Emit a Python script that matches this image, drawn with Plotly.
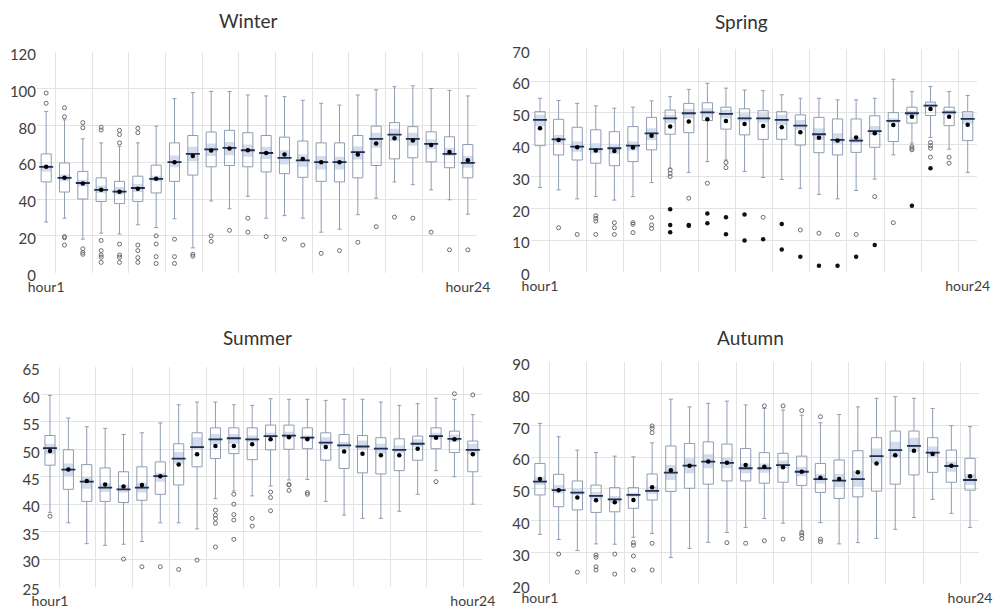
import plotly.graph_objects as go

hours = list(range(1, 25))
hour_ticks = [1, 24]
hour_labels = ["hour1", "hour24"]
season_names = ["Winter", "Spring", "Summer", "Autumn"]

# ---------------- Winter ----------------
winter_upper = [87.5, 83, 72.7, 70.5, 68.7, 70.5, 79.6, 94.5, 97.8, 98.4, 98.4, 96.5, 96, 95.6, 93.6, 92, 91, 96.5, 99.3, 101, 101.5, 100, 99, 96]
winter_q3 = [64.5, 59.6, 55, 51.5, 49.6, 52.4, 58.4, 70.5, 74.5, 76.4, 77.3, 76, 74.5, 73.6, 71.5, 70.5, 70.5, 74.5, 79.6, 81.5, 79.3, 76.5, 73.8, 69.6]
winter_median = [57.5, 51.5, 48.7, 45, 44, 46, 51, 60, 64.5, 67, 67.8, 66.5, 65, 62.4, 61, 60, 60, 65.5, 72.7, 75, 72.7, 70, 64.5, 59.6]
winter_q1 = [49.3, 43.8, 40, 38.7, 37.5, 38.7, 43.3, 49.6, 53, 57.5, 58.2, 57.5, 54.7, 53.8, 51.8, 49.6, 49.3, 51.5, 58.2, 61.8, 62.4, 60.2, 57, 51.5]
winter_lower = [27.5, 29.6, 18.2, 21.5, 21, 26, 24.5, 29.3, 13.5, 39, 34.7, 41.5, 29.6, 31, 29.6, 22, 23.6, 31.5, 40.5, 49.3, 47.8, 45, 39.6, 31.8]
winter_mean = [57.5, 51.5, 48.4, 45, 44, 45.6, 51, 60, 63.3, 66.4, 67.5, 66.5, 65, 64.2, 61.8, 60, 60, 64.2, 70.2, 73, 71.8, 69.3, 65.6, 61]
winter_ci_lo = [55, 49.6, 46.9, 43.3, 42.4, 43.8, 49.6, 57.3, 60.5, 63.3, 63.8, 63, 61.8, 58.7, 57.5, 56, 56, 61.5, 67.8, 71.5, 69, 67, 63.3, 57]
winter_ci_hi = [58.4, 53.3, 50.5, 47.3, 46.5, 48.2, 52.7, 63.6, 68.4, 70.2, 71, 69.6, 68.4, 66.5, 64.2, 63.3, 63, 68.7, 76, 78.2, 76, 72.4, 67.8, 63.3]
winter_out_hour = [1, 1, 2, 2, 2, 2, 2, 3, 3, 3, 3, 3, 4, 4, 4, 4, 4, 4, 4, 5, 5, 5, 5, 5, 5, 5,
                   6, 6, 6, 6, 6, 6, 7, 7, 7, 7, 8, 8, 8, 9, 9, 10, 10, 11, 12, 12, 13, 14, 15, 16, 17, 18, 19, 20, 21, 22, 23, 24]
winter_out_val = [97.5, 92, 89.6, 84.7, 19.6, 19, 15, 81.5, 78.7, 13, 11, 10, 79, 77.5, 17.5, 12, 9.6, 8.4, 5.6, 77.3, 75, 70.5, 15.5, 9.6, 8.4, 5.6,
                  78.4, 76, 15, 12, 8.2, 5.6, 20, 15.6, 8.7, 5, 18.2, 8.7, 5, 10, 9, 20, 17, 23, 29.6, 22, 19.6, 18.2, 15, 10.5, 12, 16.5, 25, 30.2, 29.6, 22, 12.4, 12.4]
winter_far_hour = []
winter_far_val = []

# ---------------- Spring ----------------
spring_upper = [54.6, 53.9, 53, 52.2, 51.5, 51.8, 53.8, 55.1, 57.4, 59.3, 57.8, 57.2, 57, 55.7, 54.6, 54.6, 54.1, 54.1, 54.6, 60.6, 56.7, 58.3, 56.7, 55.5]
spring_q3 = [50.4, 48, 45.5, 44.7, 44.1, 45.7, 48.6, 50.9, 53, 53.2, 51.8, 51.3, 50.7, 50.4, 49.4, 48.6, 48.1, 48.1, 49.1, 50.1, 51.8, 53.4, 51.8, 50.4]
spring_median = [47.8, 41.7, 39.4, 38.6, 38.9, 39.7, 43.6, 48.3, 49.9, 50.2, 49.7, 48.3, 48.3, 47.8, 46, 43.3, 41.5, 41.3, 44.3, 47.5, 49.9, 52.3, 50.2, 48.1]
spring_q1 = [39.7, 36.8, 35.2, 34.2, 33.4, 34.7, 38.4, 43.3, 43.8, 47.6, 44.9, 43.1, 41.7, 41.7, 39.9, 37.5, 36.8, 37.6, 39.2, 41, 46.8, 49.2, 46, 41.3]
spring_lower = [26.6, 25.8, 23, 23.7, 22.6, 23.7, 28.1, 32.6, 31.3, 34.7, 35.2, 31.6, 29.7, 29.1, 26.3, 24.4, 23, 25.6, 29.2, 36.8, 40.5, 42.3, 38.6, 31.3]
spring_mean = [45.2, 41.5, 39.2, 38.2, 38, 39.1, 42.8, 45.7, 47.3, 48, 47.5, 46.5, 45.9, 45.5, 43.9, 42.2, 41.3, 42.3, 43.6, 46.2, 48.8, 51.2, 48.8, 46.3]
spring_ci_lo = [45.7, 40.3, 37.8, 37.3, 37.1, 38.2, 41.5, 46.8, 48.3, 48.6, 48.3, 47.3, 47, 46.2, 44.7, 41.5, 40.3, 40.5, 43.1, 46.8, 49, 51.8, 49.4, 46.5]
spring_ci_hi = [49.4, 43.1, 41, 40.5, 40.3, 41, 45.2, 49.4, 51.2, 51.5, 51, 49.9, 49.9, 49.4, 47.8, 45.2, 43.6, 42.3, 45.9, 48.3, 50.7, 53, 50.9, 49.9]
spring_out_hour = [2, 3, 4, 4, 4, 4, 5, 5, 5, 6, 6, 6, 7, 7, 7, 8, 8, 8, 9, 10, 11, 11, 13, 15, 16, 17, 18, 19, 20,
                   21, 21, 21, 22, 22, 22, 22, 23, 23]
spring_out_val = [13.9, 11.8, 17.7, 16.9, 16, 11.8, 15.5, 13.9, 11.8, 15.5, 15, 12.4, 17.1, 14.8, 13.7, 32.1, 31, 30, 23.2, 27.9, 34.4, 32.8, 17.2, 13.2, 12.2, 11.8, 11.8, 23.7, 15.5,
                  39.4, 38.9, 38.4, 40.7, 39.7, 38.9, 36.1, 36.1, 34.2]
spring_far_hour = [8, 8, 8, 9, 9, 10, 10, 11, 11, 12, 12, 13, 14, 14, 15, 16, 17, 18, 19, 21, 22]
spring_far_val = [19.7, 14.8, 12.5, 14.5, 14.8, 18.4, 15.3, 17.2, 11.9, 18.1, 9.9, 10.3, 15.1, 7.1, 4.8, 2, 2, 4.8, 8.5, 20.8, 32.6]

# ---------------- Summer ----------------
summer_upper = [59.8, 55.7, 54.1, 53.8, 52.7, 53, 54.8, 58.1, 58.6, 58.6, 58.1, 58, 59.2, 59.1, 59.1, 58.9, 59.1, 59.1, 58.6, 58, 58.3, 59.3, 59.1, 56.3]
summer_q3 = [52.5, 49.9, 47.2, 46.6, 45.9, 46.8, 47.7, 51, 53, 53.9, 53.9, 53.9, 54.4, 54.4, 53.9, 53, 52.7, 52.5, 52.1, 51.9, 52.4, 53.9, 53.3, 51.5]
summer_median = [50.2, 46.3, 44.1, 43, 42.7, 43, 45.1, 48.3, 50.4, 51.8, 52, 51.8, 52.4, 52.5, 52.1, 51.2, 50.7, 50.5, 50.1, 49.9, 51, 52.4, 51.9, 49.9]
summer_q1 = [47.1, 42.7, 40.5, 40.5, 40.3, 40.7, 41.8, 43.5, 46.8, 48.3, 49.2, 48.1, 49.9, 50, 50.1, 48, 46.5, 45.7, 45.5, 46.1, 48, 50.1, 49.4, 45.9]
summer_lower = [38.5, 36.6, 32.8, 32.5, 32.7, 33.2, 36.6, 36.6, 35.5, 41, 42.4, 41.5, 43.3, 44.4, 44.5, 40.5, 38, 37.4, 37.4, 38.7, 41.8, 46.1, 45, 40]
summer_mean = [49.7, 46.3, 44.2, 43.6, 43.2, 43.5, 45.1, 47.2, 49.1, 50.6, 50.6, 50.9, 51.8, 52.2, 51.8, 50.4, 49.6, 49.2, 48.9, 48.9, 50.1, 52.1, 51.8, 49.1]
summer_ci_lo = [49.1, 45.1, 42.8, 42.2, 42.1, 42.1, 44.1, 47.4, 49.9, 50.9, 51, 51.3, 52.1, 52.1, 51.8, 50.7, 50.1, 49.8, 49.2, 49.3, 50.4, 51.8, 51.3, 49.2]
summer_ci_hi = [51, 47.4, 45, 43.8, 43.5, 43.9, 45.7, 49.5, 52.2, 52.8, 52.8, 52.5, 53, 53.2, 52.5, 52.2, 51.3, 51.6, 51, 50.7, 51.8, 53, 52.7, 51]
summer_out_hour = [1, 5, 6, 7, 8, 9, 10, 10, 10, 10, 10, 11, 11, 11, 11, 11, 12, 12, 13, 13, 13, 14, 14, 14, 15, 15, 22, 23, 24]
summer_out_val = [37.8, 30, 28.6, 28.6, 28.1, 29.8, 38.9, 38, 37.4, 36.5, 32.2, 41.8, 40, 38.1, 37.1, 33.6, 37.4, 36, 42.2, 41.2, 38.8, 43.6, 43.5, 42.5, 42.1, 41.8, 44.1, 60.1, 59.9]
summer_far_hour = []
summer_far_val = []

# ---------------- Autumn ----------------
autumn_upper = [70.6, 66.4, 62.2, 61.4, 60.3, 60.1, 64.5, 78.2, 75.8, 76.9, 77.6, 76.4, 75.3, 74.8, 73.2, 70.8, 73.4, 75.8, 78.5, 79, 78.5, 75.3, 69.9, 69.6]
autumn_q3 = [58, 54.6, 52.5, 51.2, 50.4, 50.4, 54.7, 63.5, 64.3, 64.8, 64.1, 62.7, 61.4, 61.2, 60.3, 58, 59.1, 62, 66.1, 68.2, 68.2, 66.1, 62.2, 59.6]
autumn_median = [52.3, 49.6, 48.8, 47.8, 46.7, 48.1, 49.4, 55.1, 57.3, 58.6, 58.2, 56.5, 56.5, 57.5, 55.4, 53.1, 52.6, 53.1, 60.3, 62.2, 63.5, 61.4, 57.2, 52.8]
autumn_q1 = [48.1, 44.4, 43.4, 42.6, 42.8, 43.9, 46.5, 49.2, 50.2, 51.5, 52.5, 52.5, 51.8, 52.1, 51.1, 48.9, 47, 47.5, 49.3, 51.5, 54.4, 55.2, 52.1, 49.6]
autumn_lower = [35.7, 34.1, 30.6, 32.7, 32.6, 34.8, 36, 28.4, 31.3, 33.2, 36.3, 37.9, 40.7, 39.2, 36.8, 39.4, 32.7, 33.1, 34.4, 37.3, 41, 46.7, 42.3, 37.9]
autumn_mean = [53.1, 49.6, 47.3, 46.4, 45.8, 46.5, 50.5, 55.9, 57.3, 58.6, 58.2, 57.5, 57, 56.8, 55.4, 53.5, 53.1, 55.2, 58, 60.6, 62, 61, 57.3, 54]
autumn_ci_lo = [51.2, 48.6, 48.1, 46.7, 45.7, 47.3, 48.4, 52.8, 54.9, 56.5, 56.5, 54.9, 55.1, 56.5, 54, 51.7, 50.5, 50.7, 58, 59.9, 61.7, 60.1, 55.4, 51.2]
autumn_ci_hi = [53.8, 51.2, 50.2, 49.1, 47.8, 48.8, 50.7, 57.5, 59.6, 60.9, 59.9, 58, 58, 58.9, 57, 54.7, 54.7, 55.7, 62.7, 64.8, 66.1, 63.3, 58.6, 54.7]
autumn_out_hour = [2, 3, 4, 4, 4, 4, 5, 5, 6, 6, 6, 6, 7, 7, 7, 7, 7, 11, 12, 13, 13, 14, 14, 15, 15, 15, 15, 16, 16, 16]
autumn_out_val = [29.5, 23.8, 29.2, 28.5, 25.5, 24.5, 29.5, 23.2, 33.1, 32.3, 28.9, 24.5, 69.8, 69, 67.7, 32.9, 24.5, 33.1, 32.9, 76.1, 33.7, 76.1, 34.2, 74.6, 36.2, 35.5, 34.4, 72.7, 34.2, 33.4]
autumn_far_hour = []
autumn_far_val = []

winter_ticks = [0, 20, 40, 60, 80, 100, 120]
spring_ticks = [0, 10, 20, 30, 40, 50, 60, 70]
summer_ticks = [25, 30, 35, 40, 45, 50, 55, 60, 65]
autumn_ticks = [20, 30, 40, 50, 60, 70, 80, 90]

seasons = [
    (winter_upper, winter_q3, winter_median, winter_q1, winter_lower, winter_mean, winter_ci_lo, winter_ci_hi,
     winter_out_hour, winter_out_val, winter_far_hour, winter_far_val, winter_ticks),
    (spring_upper, spring_q3, spring_median, spring_q1, spring_lower, spring_mean, spring_ci_lo, spring_ci_hi,
     spring_out_hour, spring_out_val, spring_far_hour, spring_far_val, spring_ticks),
    (summer_upper, summer_q3, summer_median, summer_q1, summer_lower, summer_mean, summer_ci_lo, summer_ci_hi,
     summer_out_hour, summer_out_val, summer_far_hour, summer_far_val, summer_ticks),
    (autumn_upper, autumn_q3, autumn_median, autumn_q1, autumn_lower, autumn_mean, autumn_ci_lo, autumn_ci_hi,
     autumn_out_hour, autumn_out_val, autumn_far_hour, autumn_far_val, autumn_ticks),
]

W, H = 993, 610
# pixel placement of each panel: left, right, top, bottom
px_boxes = [
    (37, 477, 51.7, 272.7),
    (530.7, 977, 49.3, 272),
    (40.8, 482, 366.9, 586.5),
    (530.6, 979.4, 361.7, 584.3),
]
title_px = [(248, 20), (741, 22), (257, 337), (750, 337)]

BOX_LINE = "#8f9db3"
MEDIAN = "#1f2f52"
BAND = "#d3dcec"
GRID = "#e3e3e3"
FONT = "Lato"


def fx(px):
    return px / W


def fy(py):
    return 1 - py / H


fig = go.Figure()
layout = dict(
    width=W, height=H, autosize=False,
    margin=dict(l=0, r=0, t=0, b=0, autoexpand=False),
    paper_bgcolor="white", plot_bgcolor="white",
    showlegend=False,
    font=dict(family=FONT, size=14, color="#404040"),
)
annotations = []
box_w = 0.55

for i, (up, q3, med, q1, lo, mean, cilo, cihi, oh, ov, fh, fv, yt) in enumerate(seasons):
    k = "" if i == 0 else str(i + 1)
    xa, ya = "x" + k, "y" + k
    l, r, t, b = px_boxes[i]
    # CI band of the median
    fig.add_trace(go.Bar(
        x=hours, y=[h_ - l_ for h_, l_ in zip(cihi, cilo)], base=cilo, width=box_w,
        marker=dict(color=BAND, line=dict(width=0)), xaxis=xa, yaxis=ya, hoverinfo="skip"))
    fig.add_trace(go.Box(
        x=hours, q1=q1, median=med, q3=q3, lowerfence=lo, upperfence=up,
        orientation="v", boxpoints=False, width=box_w, whiskerwidth=0.4,
        fillcolor="rgba(0,0,0,0)", line=dict(color=BOX_LINE, width=1),
        xaxis=xa, yaxis=ya))
    fig.add_trace(go.Scatter(
        x=hours, y=med, mode="markers", xaxis=xa, yaxis=ya,
        marker=dict(symbol="line-ew", size=10, line=dict(color=MEDIAN, width=1.8))))
    fig.add_trace(go.Scatter(
        x=oh, y=ov, mode="markers", xaxis=xa, yaxis=ya,
        marker=dict(symbol="circle-open", size=4, color="#6d6d6d", line=dict(width=1))))
    if fh:
        fig.add_trace(go.Scatter(
            x=fh, y=fv, mode="markers", xaxis=xa, yaxis=ya,
            marker=dict(symbol="circle", size=4.5, color="#111111")))
    fig.add_trace(go.Scatter(
        x=hours, y=mean, mode="markers", xaxis=xa, yaxis=ya,
        marker=dict(symbol="circle", size=4.5, color="#000000")))

    layout["xaxis" + k] = dict(
        domain=[fx(l), fx(r)], range=[0.5, 24.5], anchor=ya, automargin=False,
        tickmode="array", tickvals=hour_ticks, ticktext=hour_labels,
        showgrid=False, zeroline=False, showline=False, ticks="",
        ticklabelstandoff=4,
        tickfont=dict(size=14, color="#404040"),
        minor=dict(tickvals=[h + 0.5 for h in hours[:-1:2]], showgrid=True, gridcolor=GRID, gridwidth=1, ticks=""),
        fixedrange=True)
    layout["yaxis" + k] = dict(
        domain=[fy(b), fy(t)], range=[yt[0], yt[-1]], anchor=xa, automargin=False,
        tickmode="array", tickvals=yt,
        showgrid=False, zeroline=False, showline=False, ticks="",
        ticklabelshift=3,
        tickfont=dict(size=15, color="#404040"),
        minor=dict(tickvals=yt[1:-1], showgrid=True, gridcolor=GRID, gridwidth=1, ticks=""),
        fixedrange=True)
    tx, ty = title_px[i]
    annotations.append(dict(
        text=season_names[i], x=fx(tx), y=fy(ty), xref="paper", yref="paper",
        showarrow=False, xanchor="center", yanchor="middle",
        font=dict(size=19, color="#333333", family=FONT)))

layout["annotations"] = annotations
fig.update_layout(**layout)
# remove the browser's default page margin so the figure fills the window exactly
fig.write_html("out.html", config={"displayModeBar": False},
               post_script="document.body.style.margin='0';document.body.style.overflow='hidden';")
